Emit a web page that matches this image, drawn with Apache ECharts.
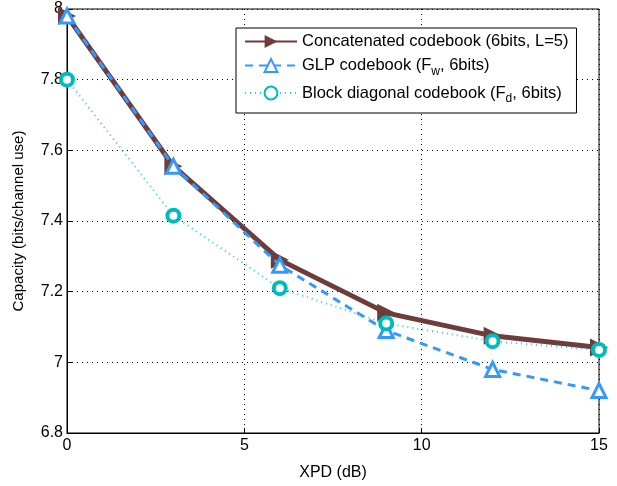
<!DOCTYPE html>
<html><head><meta charset="utf-8">
<script src="https://cdn.jsdelivr.net/npm/echarts@6/dist/echarts.min.js"></script>
<style>html,body{margin:0;padding:0;background:#fff}#c{width:617px;height:486px}</style>
</head><body><div id="c"></div>
<script>
const xpd = [0, 3, 6, 9, 12, 15];
const concatenated = [7.98, 7.555, 7.29, 7.14, 7.075, 7.042];
const glp = [7.98, 7.555, 7.275, 7.09, 6.98, 6.92];
const blockDiag = [7.8, 7.415, 7.21, 7.11, 7.06, 7.035];
const xTicks = [0, 5, 10, 15];
const yTicks = [6.8, 7, 7.2, 7.4, 7.6, 7.8, 8];

const font = 'Liberation Sans, Arial, sans-serif';
const names = ['Concatenated codebook (6bits, L=5)', 'GLP codebook (Fw, 6bits)', 'Block diagonal codebook (Fd, 6bits)'];
const pair = a => xpd.map((x, i) => [x, a[i]]);
const chart = echarts.init(document.getElementById('c'), null, {renderer: 'canvas'});
chart.setOption({
  animation: false,
  grid: {left: 67, right: 18, top: 9, bottom: 46, show: true, borderColor: '#000', borderWidth: 1},
  legend: {
    left: 236, top: 28, width: 344, orient: 'vertical', itemGap: 7,
    itemWidth: 52, itemHeight: 16,
    padding: [5, 8, 8, 8],
    borderColor: '#000', borderWidth: 1, backgroundColor: '#fff',
    data: names,
    textStyle: {fontFamily: font, fontSize: 16.5, color: '#000',
      rich: {n: {fontFamily: font, fontSize: 16.5, color: '#000'},
             s: {fontFamily: font, fontSize: 12, color: '#000', padding: [12, 0, 0, 0]}}},
    formatter: function (n) {
      if (n === names[0]) return '{n|Concatenated codebook (6bits, L=5)}';
      if (n === names[1]) return '{n|GLP codebook (F}{s|w}{n|, 6bits)}';
      return '{n|Block diagonal codebook (F}{s|d}{n|, 6bits)}';
    }
  },
  xAxis: {
    type: 'value', min: 0, max: 15, interval: 5,
    name: 'XPD (dB)', nameLocation: 'middle', nameGap: 32,
    nameTextStyle: {fontFamily: font, fontSize: 16, color: '#000'},
    axisLine: {lineStyle: {color: '#000'}},
    axisTick: {inside: true, length: 5, lineStyle: {color: '#000'}},
    axisLabel: {fontFamily: font, fontSize: 16, color: '#000', margin: 5},
    splitLine: {show: true, lineStyle: {color: '#000', type: [1, 4], width: 1}}
  },
  yAxis: {
    type: 'value', min: 6.8, max: 8, interval: 0.2,
    name: 'Capacity (bits/channel use)', nameLocation: 'middle', nameGap: 41,
    nameTextStyle: {fontFamily: font, fontSize: 15, color: '#000'},
    axisLine: {lineStyle: {color: '#000'}},
    axisTick: {inside: true, length: 5, lineStyle: {color: '#000'}},
    axisLabel: {fontFamily: font, fontSize: 16, color: '#000', margin: 4,
      formatter: v => String(Math.round(v * 10) / 10)},
    splitLine: {show: true, lineStyle: {color: '#000', type: [1, 4], width: 1}}
  },
  series: [
    {name: names[0], type: 'line', data: pair(concatenated),
     lineStyle: {color: '#6e3d3a', width: 5}, itemStyle: {color: '#6e3d3a'},
     symbol: 'triangle', symbolSize: 18, symbolRotate: -90, z: 2},
    {name: names[1], type: 'line', data: pair(glp),
     lineStyle: {color: '#3399ff', width: 3, type: [8, 6]},
     itemStyle: {color: '#fff', borderColor: '#3399ff', borderWidth: 3},
     symbol: 'triangle', symbolSize: 14, z: 3},
    {name: names[2], type: 'line', data: pair(blockDiag),
     lineStyle: {color: '#33cccc', width: 2, type: [1, 4]},
     itemStyle: {color: '#fff', borderColor: '#00bbbb', borderWidth: 4},
     symbol: 'circle', symbolSize: 12, z: 4}
  ]
});
</script></body></html>
